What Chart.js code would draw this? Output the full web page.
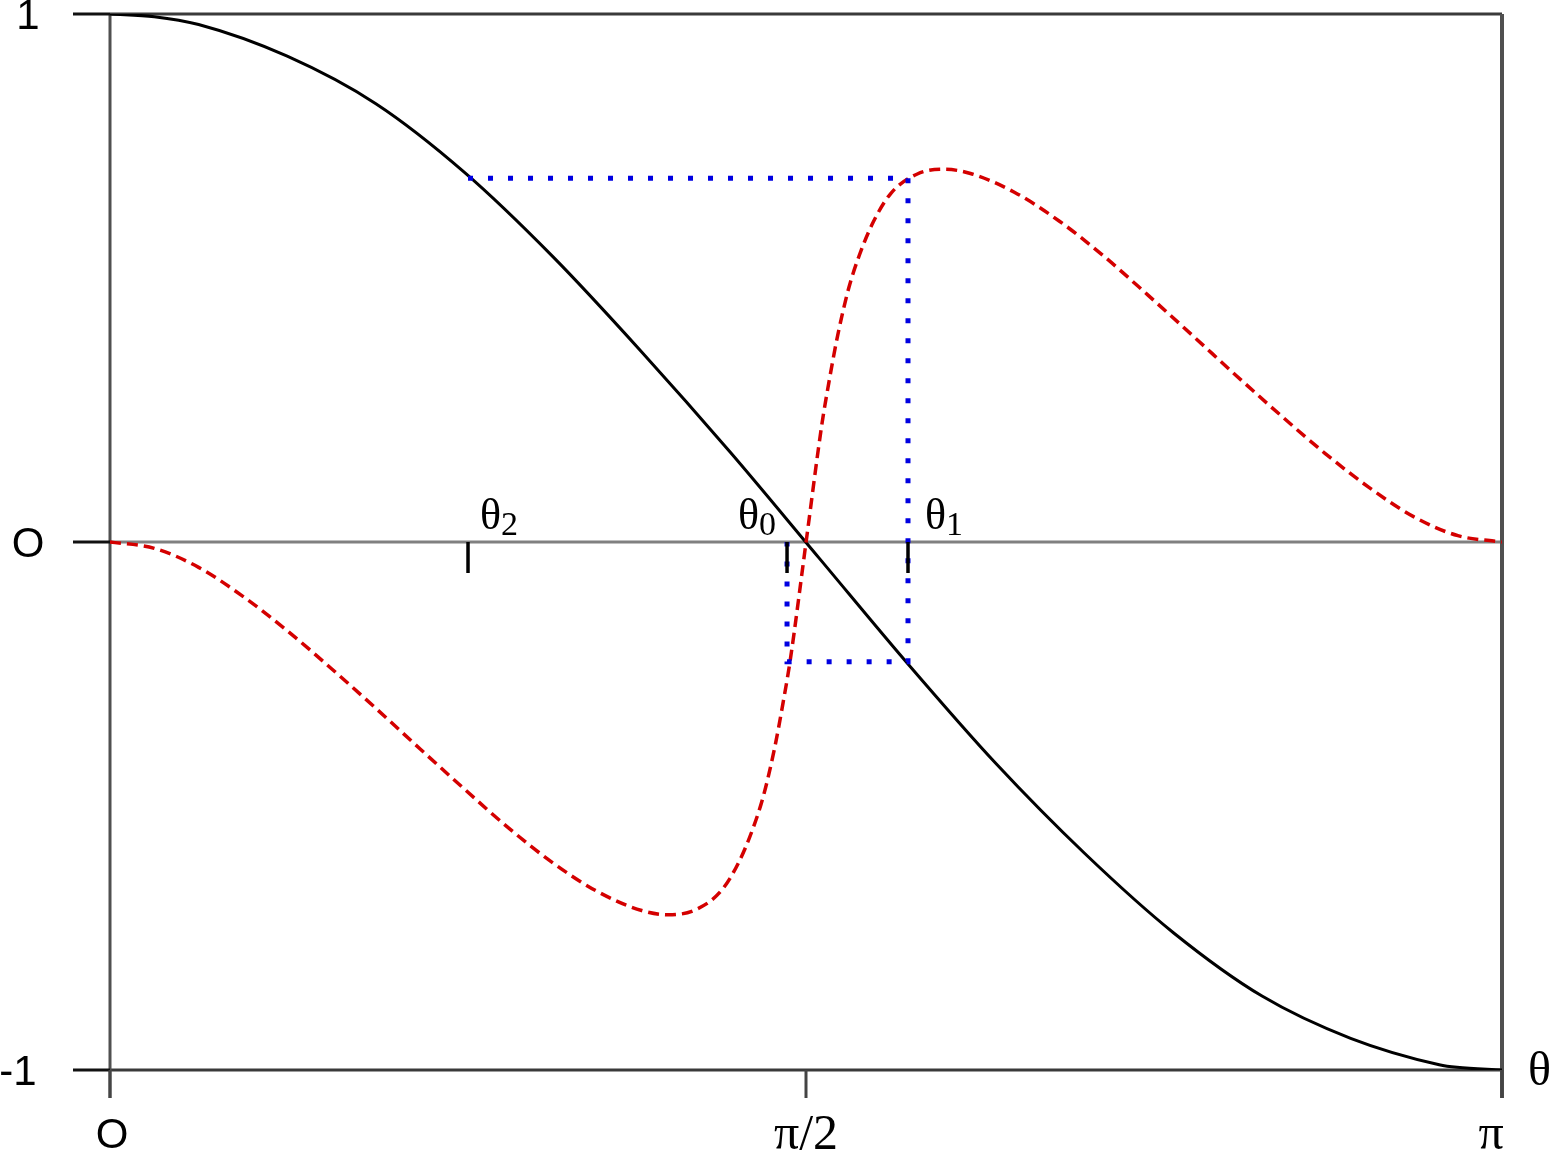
<html>
<head>
<meta charset="UTF-8">
<title>cos theta</title>
<script src="https://cdn.jsdelivr.net/npm/chart.js"></script>
<style>
  html, body { margin: 0; padding: 0; background: #fff; }
  #wrap { width: 1556px; height: 1154px; }
</style>
</head>
<body>
<div id="wrap"><canvas id="myChart" width="1556" height="1154"></canvas></div>
<script>
// black curve
const blackTheta = [0, 0.1, 0.2, 0.4, 0.6, 0.8, 1.0, 1.2, 1.4, 1.6, 1.8, 2.0, 2.2, 2.4, 2.6, 2.8, 3.0, 3.04, 3.1416];
const blackValues = [1.00, 0.995, 0.98, 0.92, 0.83, 0.70, 0.54, 0.36, 0.17, -0.03, -0.23, -0.42, -0.59, -0.74, -0.86, -0.94, -0.99, -0.995, -1.00];

// red dashed curve
const redTheta = [0, 0.10, 0.20, 0.30, 0.40, 0.50, 0.60, 0.70, 0.80, 0.90, 1.00, 1.10, 1.20, 1.26, 1.32, 1.38, 1.42,
  1.45, 1.475, 1.50, 1.52, 1.535, 1.571, 1.607, 1.622, 1.642, 1.667, 1.692, 1.722, 1.762, 1.822, 1.882, 1.942,
  2.042, 2.142, 2.242, 2.342, 2.442, 2.542, 2.642, 2.742, 2.842, 2.942, 3.042, 3.1416];
const redValues = [0, -0.012, -0.048, -0.103, -0.168, -0.240, -0.315, -0.392, -0.468, -0.542, -0.608, -0.662, -0.698, -0.706, -0.697, -0.660, -0.605,
  -0.545, -0.480, -0.390, -0.300, -0.225, 0, 0.225, 0.300, 0.390, 0.480, 0.545, 0.605, 0.660, 0.697, 0.706, 0.698,
  0.662, 0.608, 0.542, 0.468, 0.392, 0.315, 0.240, 0.168, 0.103, 0.048, 0.012, 0];

// blue dotted construction
const guideTheta = [0.808, 1.801, 1.801, 1.528, 1.528];
const guideValues = [0.689, 0.689, -0.227, -0.227, 0];

// marked angles on the zero line
const markTheta = [0.808, 1.528, 1.801];
const markSubs = ['2', '0', '1'];

// axis ticks
const xTicks = [0, Math.PI / 2, Math.PI];
const xTickLabels = ['O', 'π/2', 'π'];
const yTicks = [-1, 0, 1];
const yTickLabels = ['-1', 'O', '1'];

const toPoints = (xs, ys) => xs.map((x, i) => ({ x: x, y: ys[i] }));

const axesPlugin = {
  id: 'axesPlugin',
  beforeDatasetsDraw(chart) {
    const ctx = chart.ctx;
    const xs = chart.scales.x, ys = chart.scales.y;
    const a = chart.chartArea;
    ctx.save();
    ctx.lineCap = 'butt';
    // zero line
    ctx.strokeStyle = '#808080';
    ctx.lineWidth = 3;
    ctx.beginPath();
    ctx.moveTo(a.left, ys.getPixelForValue(0));
    ctx.lineTo(a.right, ys.getPixelForValue(0));
    ctx.stroke();
    // frame
    ctx.strokeStyle = '#3a3a3a';
    ctx.lineWidth = 3;
    ctx.beginPath();
    ctx.moveTo(a.left, a.top);
    ctx.lineTo(a.right, a.top);
    ctx.moveTo(a.left, a.bottom);
    ctx.lineTo(a.right, a.bottom);
    ctx.stroke();
    ctx.strokeStyle = '#505050';
    ctx.beginPath();
    ctx.moveTo(a.left, a.top);
    ctx.lineTo(a.left, a.bottom + 28);
    ctx.stroke();
    ctx.lineWidth = 4;
    ctx.beginPath();
    ctx.moveTo(a.right, a.top);
    ctx.lineTo(a.right, a.bottom + 28);
    ctx.stroke();
    // y ticks
    ctx.strokeStyle = '#111';
    ctx.lineWidth = 3;
    yTicks.forEach(v => {
      const py = ys.getPixelForValue(v);
      ctx.beginPath();
      ctx.moveTo(a.left - 37, py);
      ctx.lineTo(a.left, py);
      ctx.stroke();
    });
    // x ticks
    ctx.strokeStyle = '#444';
    xTicks.forEach(v => {
      const px = xs.getPixelForValue(v);
      ctx.beginPath();
      ctx.moveTo(px, a.bottom);
      ctx.lineTo(px, a.bottom + 28);
      ctx.stroke();
    });
    ctx.restore();
  },
  afterDatasetsDraw(chart) {
    const ctx = chart.ctx;
    const xs = chart.scales.x, ys = chart.scales.y;
    const a = chart.chartArea;
    const y0 = ys.getPixelForValue(0);
    ctx.save();
    // marks on zero line
    ctx.strokeStyle = '#000';
    ctx.lineWidth = 3.5;
    markTheta.forEach(t => {
      const px = xs.getPixelForValue(t);
      ctx.beginPath();
      ctx.moveTo(px, y0);
      ctx.lineTo(px, y0 + 31);
      ctx.stroke();
    });
    // theta labels
    ctx.fillStyle = '#000';
    ctx.textBaseline = 'alphabetic';
    const drawTheta = (px, sub, align) => {
      ctx.font = '44px "Liberation Serif"';
      const w1 = ctx.measureText('θ').width;
      ctx.font = '34px "Liberation Serif"';
      const w2 = ctx.measureText(sub).width;
      let left = align === 'left' ? px : px - w1 - w2;
      ctx.font = '44px "Liberation Serif"';
      ctx.textAlign = 'left';
      ctx.fillText('θ', left, y0 - 13);
      ctx.font = '34px "Liberation Serif"';
      ctx.fillText(sub, left + w1, y0 - 7);
    };
    drawTheta(xs.getPixelForValue(markTheta[0]) + 12, markSubs[0], 'left');
    drawTheta(xs.getPixelForValue(markTheta[1]) - 11, markSubs[1], 'right');
    drawTheta(xs.getPixelForValue(markTheta[2]) + 17, markSubs[2], 'left');
    // y tick labels
    ctx.font = '42px "Liberation Sans"';
    ctx.textAlign = 'center';
    ctx.textBaseline = 'middle';
    yTicks.forEach((v, i) => {
      const py = ys.getPixelForValue(v);
      const cx = yTickLabels[i] === '-1' ? 18 : 28;
      ctx.fillText(yTickLabels[i], cx, py + 3);
    });
    // x tick labels
    xTicks.forEach((v, i) => {
      let px = xs.getPixelForValue(v);
      if (i === 0) {
        ctx.font = '42px "Liberation Sans"';
        px += 2;
      } else {
        ctx.font = '50px "Liberation Serif"';
        if (i === 2) px -= 11;
      }
      ctx.fillText(xTickLabels[i], px, a.bottom + 66);
    });
    // axis name
    ctx.font = '48px "Liberation Serif"';
    ctx.textAlign = 'left';
    ctx.fillText('θ', a.right + 26, a.bottom + 2);
    ctx.restore();
  }
};

const config = {
  type: 'scatter',
  data: {
    datasets: [
      {
        label: 'guide',
        data: toPoints(guideTheta, guideValues),
        showLine: true,
        borderColor: 'rgb(0, 0, 225)',
        borderWidth: 5,
        borderDash: [5, 15],
        borderCapStyle: 'butt',
        pointRadius: 0,
        tension: 0,
        order: 1
      },
      {
        label: 'red',
        data: toPoints(redTheta, redValues),
        showLine: true,
        borderColor: 'rgb(212, 0, 0)',
        borderWidth: 3.5,
        borderDash: [11, 6],
        pointRadius: 0,
        cubicInterpolationMode: 'monotone',
        order: 2
      },
      {
        label: 'cos',
        data: toPoints(blackTheta, blackValues),
        showLine: true,
        borderColor: '#000',
        borderWidth: 3,
        pointRadius: 0,
        cubicInterpolationMode: 'monotone',
        order: 3
      }
    ]
  },
  options: {
    responsive: false,
    animation: false,
    layout: { padding: { left: 110, right: 54, top: 14, bottom: 84 } },
    plugins: { legend: { display: false }, tooltip: { enabled: false } },
    scales: {
      x: { type: 'linear', min: 0, max: Math.PI, display: false },
      y: { type: 'linear', min: -1, max: 1, display: false }
    }
  },
  plugins: [axesPlugin]
};

var myChart = new Chart(document.getElementById('myChart'), config);
</script>
</body>
</html>
